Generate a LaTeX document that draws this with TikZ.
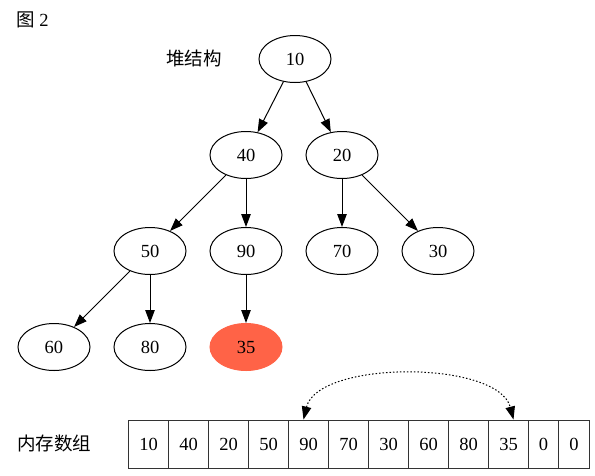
\documentclass[tikz,border=0pt]{standalone}
\usepackage{fontspec}
\setmainfont{Liberation Serif}
\newfontfamily\cjk{Noto Sans CJK SC}
\usetikzlibrary{arrows.meta,shapes.geometric}
\definecolor{tomato}{HTML}{FF6347}
\begin{document}
\begin{tikzpicture}[x=1pt,y=-1pt,
  font=\fontsize{18.5}{20}\selectfont,
  hnode/.style={ellipse,draw=black,line width=1pt,minimum width=72pt,minimum height=47pt,inner sep=0pt},
  hot/.style={ellipse,fill=tomato,draw=tomato,line width=1pt,minimum width=72pt,minimum height=47pt,inner sep=0pt},
  tip/.style={Triangle[length=13pt,width=9.5pt]},
  edge/.style={-{Triangle[length=13pt,width=9.5pt]},line width=1pt},
  cell/.style={rectangle,draw=black!80,line width=1pt,minimum height=48pt,inner sep=0pt,anchor=west},
  lbl/.style={inner sep=0pt,font=\fontsize{18.5}{20}\selectfont\cjk}]
\useasboundingbox (0,0) rectangle (595,475);
% labels
\node[inner sep=0pt] (fig) at (32.5,20) {{\cjk 图} 2};
\node[lbl] (heap) at (194,58) {堆结构};
\node[lbl] (mem) at (54,443) {内存数组};
% tree
\node[hnode] (n10) at (295,59) {10};
\node[hnode] (n40) at (246,155) {40};
\node[hnode] (n20) at (342,155) {20};
\node[hnode] (n50) at (150,251) {50};
\node[hnode] (n90) at (246,251) {90};
\node[hnode] (n70) at (342,251) {70};
\node[hnode] (n30) at (438,251) {30};
\node[hnode] (n60) at (54,347) {60};
\node[hnode] (n80) at (150,347) {80};
\node[hot] (n35) at (246,347) {35};
\draw[edge] (n10) -- (n40);
\draw[edge] (n10) -- (n20);
\draw[edge] (n40) -- (n50);
\draw[edge] (n40) -- (n90);
\draw[edge] (n20) -- (n70);
\draw[edge] (n20) -- (n30);
\draw[edge] (n50) -- (n60);
\draw[edge] (n50) -- (n80);
\draw[edge] (n90) -- (n35);
% array
\node[cell,minimum width=40pt] (c1) at (128,444) {10};
\node[cell,minimum width=40pt] (c2) at (168,444) {40};
\node[cell,minimum width=40pt] (c3) at (208,444) {20};
\node[cell,minimum width=40pt] (c4) at (248,444) {50};
\node[cell,minimum width=40pt] (c5) at (288,444) {90};
\node[cell,minimum width=40pt] (c6) at (328,444) {70};
\node[cell,minimum width=40pt] (c7) at (368,444) {30};
\node[cell,minimum width=40pt] (c8) at (408,444) {60};
\node[cell,minimum width=40pt] (c9) at (448,444) {80};
\node[cell,minimum width=40pt] (c10) at (488,444) {35};
\node[cell,minimum width=30pt] (c11) at (528,444) {0};
\node[cell,minimum width=31pt] (c12) at (558,444) {0};
\draw[{Triangle[length=13pt,width=9.5pt]}-{Triangle[length=13pt,width=9.5pt]},line width=1pt,dash pattern=on 1.5pt off 2pt]
  ([xshift=-5pt]c5.north) .. controls (318,360) and (498,360) .. ([xshift=5pt]c10.north);
\end{tikzpicture}
\end{document}
